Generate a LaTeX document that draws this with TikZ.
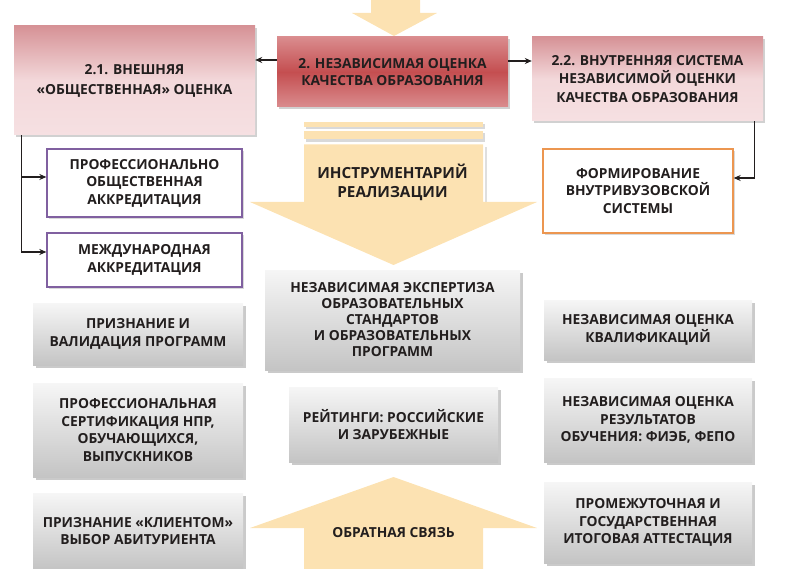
\documentclass[tikz,border=0pt]{standalone}
\usepackage{fontspec}
\setmainfont{Open Sans}
\usetikzlibrary{shadows,arrows.meta}
\definecolor{tan}{RGB}{252,226,178}
\definecolor{txt}{RGB}{34,30,30}
\definecolor{redmid}{RGB}{196,78,80}
\definecolor{redlt}{RGB}{218,140,142}
\definecolor{pinkdk}{RGB}{214,146,150}
\definecolor{pinklt}{RGB}{246,224,226}
\definecolor{grtop}{RGB}{246,246,246}
\definecolor{grbot}{RGB}{196,196,196}
\definecolor{purp}{RGB}{128,96,160}
\definecolor{orng}{RGB}{236,150,80}
\tikzset{
  lbl/.style={font=\bfseries\fontsize{13.8}{17.5}\selectfont, text=txt, align=center, inner sep=0pt},
  graybox/.style={lbl, top color=grtop, bottom color=grbot, drop shadow={shadow xshift=2.5pt, shadow yshift=-2.5pt, opacity=0.35, fill=black!60}},
  redbox/.style={lbl, top color=redlt, bottom color=redlt, middle color=redmid, drop shadow={shadow xshift=2pt, shadow yshift=-2.5pt, opacity=0.3, fill=black!60}},
  pinkbox/.style={lbl, top color=pinkdk, bottom color=pinklt, middle color=pinklt!90!pinkdk, drop shadow={shadow xshift=2pt, shadow yshift=-2.5pt, opacity=0.3, fill=black!60}},
  linebox/.style={lbl, fill=white, draw, line width=1.3pt, drop shadow={shadow xshift=2pt, shadow yshift=-2pt, opacity=0.25, fill=black!60}},
  conn/.style={draw=txt, line width=1.2pt, -{Stealth[length=7pt,width=6pt]}},
  bigarrow/.style={fill=tan},
}
\begin{document}
\begin{tikzpicture}[x=1pt,y=-1pt]
\useasboundingbox (0,0) rectangle (786,569);
% top arrow
\fill[bigarrow] (371,-2) -- (420,-2) -- (420,13) -- (437,13) -- (394,36) -- (352,13) -- (371,13) -- cycle;
% stripes with shadows
\fill[black!25, opacity=0.6] (306,124) rectangle (485,129);
\fill[black!25, opacity=0.6] (306,133) rectangle (485,142);
\fill[black!25, opacity=0.5] (485,147) rectangle (487,203);
\fill[tan] (304,121.7) rectangle (483,126.7);
\fill[tan] (304,130.7) rectangle (483,139.3);
% central down arrow
\fill[bigarrow] (304,144.3) -- (483,144.3) -- (483,202) -- (537,202) -- (393.5,265) -- (250,202) -- (304,202) -- cycle;
% up arrow
\fill[bigarrow] (393.5,477) -- (537,528) -- (483,528) -- (483,575) -- (304,575) -- (304,528) -- (250,528) -- cycle;
\node[lbl] (obr) at (393.5,533) {ОБРАТНАЯ СВЯЗЬ};
\node[lbl, font=\bfseries\fontsize{15.3}{19}\selectfont] (instr) at (392.5,182) {ИНСТРУМЕНТАРИЙ\\РЕАЛИЗАЦИИ};

% top row
\node[redbox, minimum width=231, minimum height=70] (red) at (392.5,72) {2. НЕЗАВИСИМАЯ ОЦЕНКА\\КАЧЕСТВА ОБРАЗОВАНИЯ};
\node[pinkbox, minimum width=241, minimum height=109, font=\bfseries\fontsize{13.8}{20}\selectfont] (n21) at (134.5,80.5) {2.1. ВНЕШНЯЯ\\«ОБЩЕСТВЕННАЯ» ОЦЕНКА};
\node[pinkbox, minimum width=231, minimum height=84, font=\bfseries\fontsize{13.8}{18.5}\selectfont] (n22) at (647.5,79) {2.2. ВНУТРЕННЯЯ СИСТЕМА\\НЕЗАВИСИМОЙ ОЦЕНКИ\\КАЧЕСТВА ОБРАЗОВАНИЯ};

% outlined boxes
\node[linebox, draw=purp, minimum width=195, minimum height=68] (nprof) at (144.5,183) {ПРОФЕССИОНАЛЬНО\\ОБЩЕСТВЕННАЯ\\АККРЕДИТАЦИЯ};
\node[linebox, draw=purp, minimum width=195, minimum height=54] (nmezh) at (144.5,260) {МЕЖДУНАРОДНАЯ\\АККРЕДИТАЦИЯ};
\node[linebox, draw=orng, minimum width=190, minimum height=84] (nform) at (638,191) {ФОРМИРОВАНИЕ\\ВНУТРИВУЗОВСКОЙ\\СИСТЕМЫ};

% gray boxes
\node[graybox, minimum width=210, minimum height=62] (npv) at (138,334) {ПРИЗНАНИЕ И\\ВАЛИДАЦИЯ ПРОГРАММ};
\node[graybox, minimum width=210, minimum height=94] (nsert) at (138,430) {ПРОФЕССИОНАЛЬНАЯ\\СЕРТИФИКАЦИЯ НПР,\\ОБУЧАЮЩИХСЯ,\\ВЫПУСКНИКОВ};
\node[graybox, minimum width=210, minimum height=76] (nkl) at (138,531) {ПРИЗНАНИЕ «КЛИЕНТОМ»\\ВЫБОР АБИТУРИЕНТА};
\node[graybox, minimum width=255, minimum height=100, font=\bfseries\fontsize{13.8}{16}\selectfont] (nexp) at (392.5,320) {НЕЗАВИСИМАЯ ЭКСПЕРТИЗА\\ОБРАЗОВАТЕЛЬНЫХ\\СТАНДАРТОВ\\И ОБРАЗОВАТЕЛЬНЫХ\\ПРОГРАММ};
\node[graybox, minimum width=209, minimum height=75] (nreit) at (393.5,424.5) {РЕЙТИНГИ: РОССИЙСКИЕ\\И ЗАРУБЕЖНЫЕ};
\node[graybox, minimum width=208, minimum height=60] (nkval) at (648,330) {НЕЗАВИСИМАЯ ОЦЕНКА\\КВАЛИФИКАЦИЙ};
\node[graybox, minimum width=208, minimum height=84] (nrez) at (648,420) {НЕЗАВИСИМАЯ ОЦЕНКА\\РЕЗУЛЬТАТОВ\\ОБУЧЕНИЯ: ФИЭБ, ФЕПО};
\node[graybox, minimum width=208, minimum height=81] (nprom) at (648,522.5) {ПРОМЕЖУТОЧНАЯ И\\ГОСУДАРСТВЕННАЯ\\ИТОГОВАЯ АТТЕСТАЦИЯ};

% connectors
\draw[conn] ([yshift=12pt]red.west) -- ([yshift=12pt]red.west -| n21.east);
\draw[conn] ([yshift=11pt]red.east) -- ([yshift=11pt]red.east -| n22.west);
\draw[conn] ([xshift=8pt]n21.south west) |- ([yshift=8pt]nmezh.west);
\draw[conn] ([xshift=8pt]n21.south west) |- ([yshift=6pt]nprof.west);
\draw[conn] ([xshift=-9pt]n22.south east) |- ([yshift=13pt]nform.east);
\end{tikzpicture}
\end{document}
